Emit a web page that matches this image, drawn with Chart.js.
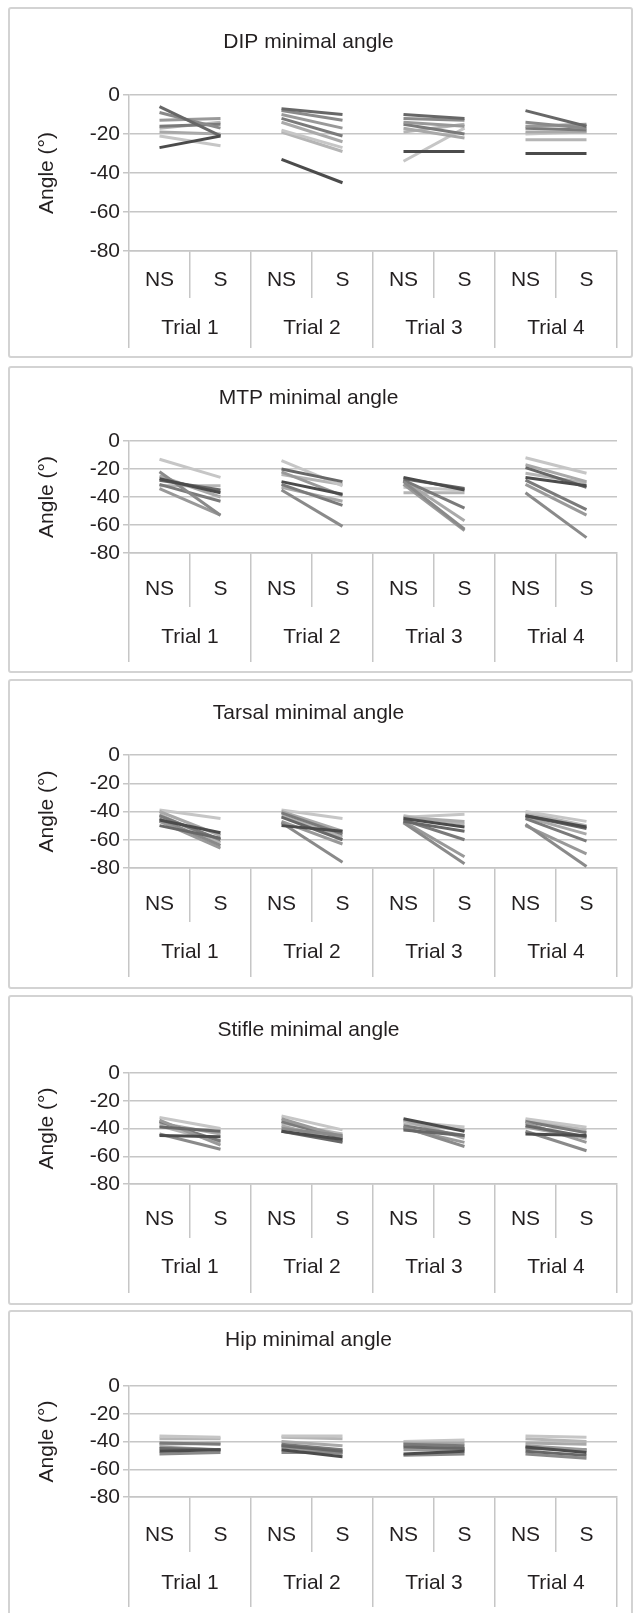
<!DOCTYPE html>
<html>
<head>
<meta charset="utf-8">
<script src="https://cdn.jsdelivr.net/npm/chart.js@4.4.1/dist/chart.umd.min.js"></script>
<style>
  body { margin: 0; background: #fff; width: 634px; height: 1613px; position: relative; overflow: hidden; }
  .panel { position: absolute; left: 8px; width: 625px; border: 2px solid #d3d3d3; border-radius: 3px; box-sizing: border-box; }
  canvas { position: absolute; left: 0; }
</style>
</head>
<body>
<script>
// x categories, two rows
const categories = ['NS', 'S', 'NS', 'S', 'NS', 'S', 'NS', 'S'];
const trials = ['Trial 1', 'Trial 2', 'Trial 3', 'Trial 4'];
const yTicks = [0, -20, -40, -60, -80];

// one row per animal: [T1 NS, T1 S, T2 NS, T2 S, T3 NS, T3 S, T4 NS, T4 S]
const dipAngles = [
  [-27, -21, -33, -45, -29, -29, -30, -30],
  [-6, -21, -7, -10, -10, -12, -8, -16],
  [-9, -17, -8, -13, -12, -13, -14, -17],
  [-13, -12, -10, -17, -14, -16, -16, -15],
  [-16, -15, -12, -21, -15, -20, -17, -18],
  [-19, -20, -14, -24, -17, -22, -19, -19],
  [-21, -26, -18, -27, -34, -17, -20, -19],
  [-17, -14, -19, -29, -19, -15, -23, -23]
];
const mtpAngles = [
  [-27, -37, -29, -38, -26, -35, -26, -32],
  [-28, -35, -20, -29, -27, -34, -19, -33],
  [-22, -53, -35, -61, -29, -63, -37, -69],
  [-34, -53, -22, -39, -31, -64, -31, -53],
  [-31, -43, -31, -46, -28, -48, -28, -49],
  [-25, -40, -33, -43, -28, -57, -17, -29],
  [-13, -26, -14, -32, -33, -35, -12, -23],
  [-32, -32, -24, -31, -37, -37, -23, -30]
];
const tarsalAngles = [
  [-46, -55, -50, -54, -45, -51, -43, -51],
  [-50, -59, -44, -60, -47, -54, -43, -52],
  [-45, -64, -48, -76, -48, -77, -49, -79],
  [-47, -66, -47, -63, -47, -72, -50, -70],
  [-43, -60, -41, -56, -46, -60, -45, -61],
  [-40, -57, -40, -54, -44, -47, -44, -56],
  [-39, -45, -39, -45, -44, -42, -40, -47],
  [-42, -62, -43, -58, -43, -49, -41, -50]
];
const stifleAngles = [
  [-45, -46, -42, -48, -33, -42, -44, -45],
  [-39, -42, -42, -50, -41, -45, -38, -46],
  [-44, -55, -40, -45, -39, -53, -42, -56],
  [-34, -52, -33, -46, -40, -50, -36, -50],
  [-35, -49, -35, -47, -38, -45, -35, -43],
  [-36, -44, -38, -49, -34, -47, -39, -47],
  [-32, -40, -31, -41, -35, -39, -33, -39],
  [-38, -50, -36, -44, -36, -41, -34, -41]
];
const hipAngles = [
  [-47, -46, -46, -51, -49, -47, -44, -48],
  [-45, -46, -43, -47, -44, -45, -47, -50],
  [-49, -48, -48, -48, -50, -49, -49, -52],
  [-44, -46, -44, -49, -46, -46, -43, -46],
  [-41, -42, -42, -46, -42, -43, -45, -46],
  [-42, -41, -40, -43, -41, -41, -41, -42],
  [-36, -37, -36, -36, -40, -39, -36, -37],
  [-38, -38, -37, -38, -43, -45, -38, -40]
];

const lineColors = ['#4b4b4b', '#676767', '#8a8a8a', '#999999', '#7a7a7a', '#a9a9a9', '#c6c6c6', '#b5b5b5'];

const FS = 21;
const LH = FS * 1.2;
const FONT = { family: '"Liberation Sans", Arial, sans-serif', size: FS };
const TEXT = '#231f20';
const GRID = '#c6c6c6';

// panel geometry in page pixels
const panels = [
  { title: 'DIP minimal angle', values: dipAngles, top: 7, bottom: 358, ty: 42, y0: 95, y1: 251, ns: 29, sh: 47, tr: 77, lg: 97 },
  { title: 'MTP minimal angle', values: mtpAngles, top: 366, bottom: 673, ty: 398, y0: 441, y1: 553, ns: 36, sh: 54, tr: 84, lg: 109 },
  { title: 'Tarsal minimal angle', values: tarsalAngles, top: 679, bottom: 989, ty: 713, y0: 755, y1: 868, ns: 36, sh: 54, tr: 84, lg: 109 },
  { title: 'Stifle minimal angle', values: stifleAngles, top: 995, bottom: 1305, ty: 1030, y0: 1073, y1: 1184, ns: 35, sh: 54, tr: 83, lg: 109 },
  { title: 'Hip minimal angle', values: hipAngles, top: 1310, bottom: 1625, ty: 1340, y0: 1386, y1: 1497, ns: 38, sh: 55, tr: 86, lg: 110 }
];

panels.forEach((p) => {
  const h = p.bottom - p.top;
  const box = document.createElement('div');
  box.className = 'panel';
  box.style.top = p.top + 'px';
  box.style.height = h + 'px';
  document.body.appendChild(box);

  const canvas = document.createElement('canvas');
  canvas.width = 634;
  canvas.height = h;
  canvas.style.top = p.top + 'px';
  document.body.appendChild(canvas);

  const datasets = p.values.map((vals, i) => ({
    data: vals,
    borderColor: lineColors[i],
    borderWidth: 3,
    pointRadius: 0,
    tension: 0,
    // hide the link from S of one trial to NS of the next
    segment: {
      borderColor: (ctx) => (ctx.p0DataIndex % 2 === 1 ? 'rgba(0,0,0,0)' : undefined)
    }
  }));

  new Chart(canvas, {
    type: 'line',
    data: { labels: categories, datasets: datasets },
    options: {
      responsive: false,
      animation: false,
      layout: { padding: { left: 0, right: 17, top: 0, bottom: h - (p.y1 - p.top) - p.lg } },
      plugins: {
        legend: { display: false },
        tooltip: { enabled: false },
        title: {
          display: true,
          text: p.title,
          color: TEXT,
          font: { ...FONT, weight: 'normal' },
          padding: { top: p.ty - p.top - LH / 2, bottom: p.y0 - p.ty - LH / 2 }
        }
      },
      scales: {
        x: {
          offset: true,
          grid: { offset: true, drawOnChartArea: false, color: GRID, lineWidth: 1.5, tickLength: p.sh },
          border: { display: true, color: GRID, width: 1.5 },
          ticks: { color: TEXT, font: FONT, maxRotation: 0, autoSkip: false, padding: p.ns - p.sh - LH / 2 },
          afterFit: (s) => { s.height = p.sh; }
        },
        x2: {
          type: 'category',
          position: 'bottom',
          labels: trials,
          offset: true,
          grid: { offset: true, drawOnChartArea: false, color: GRID, lineWidth: 1.5, tickLength: p.lg - p.sh },
          border: { display: false },
          ticks: { color: TEXT, font: FONT, maxRotation: 0, autoSkip: false, padding: p.tr - p.lg - LH / 2 },
          afterFit: (s) => { s.height = p.lg - p.sh; }
        },
        y: {
          min: Math.min(...yTicks),
          max: Math.max(...yTicks),
          ticks: { stepSize: yTicks[0] - yTicks[1], autoSkip: false, color: TEXT, font: FONT, padding: 3 },
          grid: { color: GRID, lineWidth: 1.5, tickLength: 6 },
          border: { display: true, color: GRID, width: 1.5 },
          title: { display: true, text: 'Angle (°)', color: TEXT, font: FONT, padding: { top: 47 - LH / 2 } },
          afterFit: (s) => { s.width = 129; }
        }
      }
    }
  });
});
</script>
</body>
</html>
